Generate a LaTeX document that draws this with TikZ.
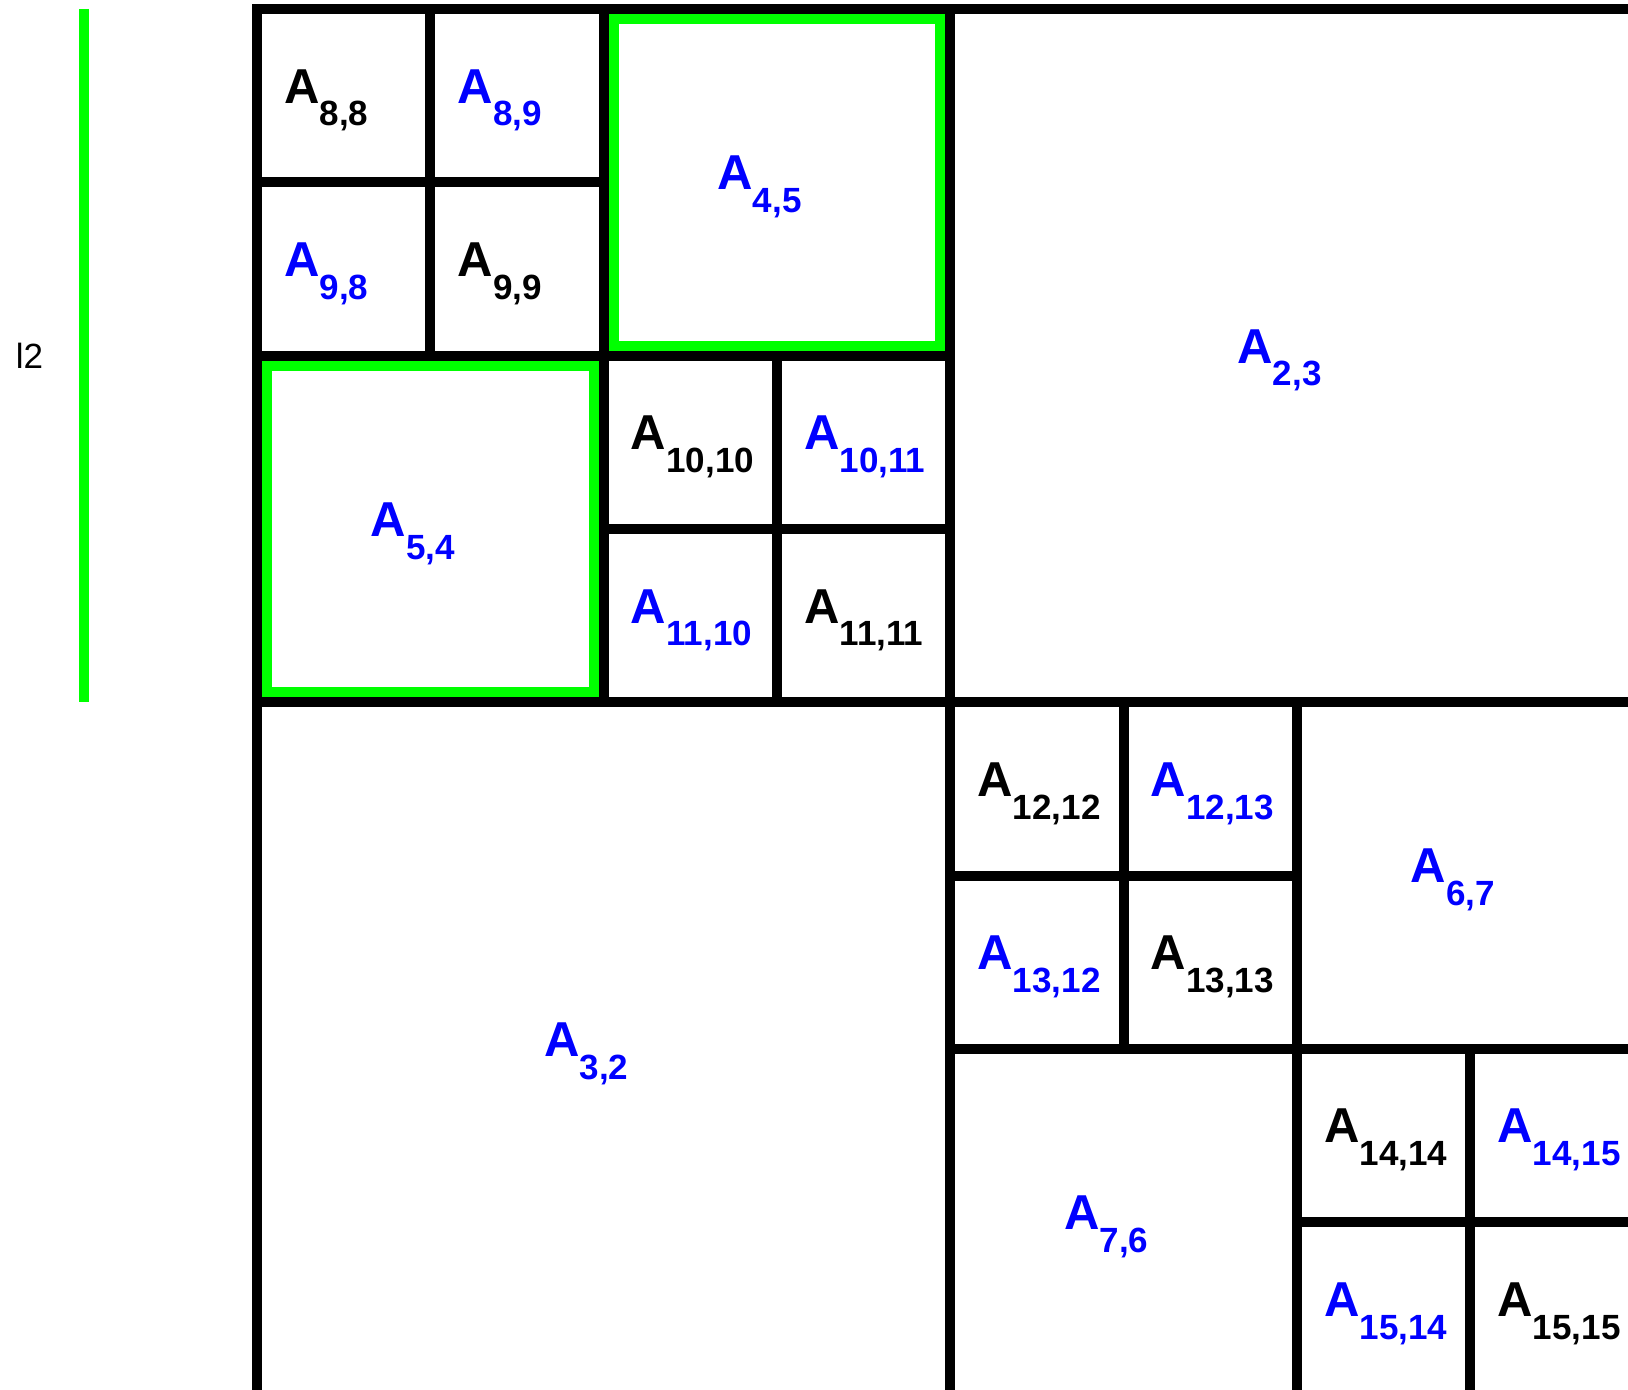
\documentclass[tikz,border=0pt]{standalone}
\usepackage{fontspec}
\setmainfont{Liberation Sans}
\usetikzlibrary{positioning,calc}
\definecolor{Diag}{RGB}{0,0,0}
\definecolor{Off}{RGB}{0,0,255}
\definecolor{Level}{RGB}{0,255,0}

\newcommand{\blocklabel}[1]{{\fontsize{16.1}{19}\selectfont\bfseries A}\raisebox{-7.5pt}{\fontsize{11.5}{14}\selectfont\bfseries #1}}

\begin{document}
\begin{tikzpicture}[x=2cm,y=2cm,
    gridbox/.style={draw=black,line width=3.3pt},
    hilite/.style={draw=Level,line width=3.3pt},
    blk/.style={anchor=base west,inner sep=0pt}]
        \clip (-1.483,0.052) rectangle (7.911,-7.963);
        \foreach \nm/\x/\y/\s/\sub/\col in {
          a23/4/0/4/{2,3}/Off,
          a32/0/4/4/{3,2}/Off,
          a45/2/0/2/{4,5}/Off,
          a54/0/2/2/{5,4}/Off,
          a67/6/4/2/{6,7}/Off,
          a76/4/6/2/{7,6}/Off,
          a88/0/0/1/{8,8}/Diag,
          a89/1/0/1/{8,9}/Off,
          a98/0/1/1/{9,8}/Off,
          a99/1/1/1/{9,9}/Diag,
          a1010/2/2/1/{10,10}/Diag,
          a1011/3/2/1/{10,11}/Off,
          a1110/2/3/1/{11,10}/Off,
          a1111/3/3/1/{11,11}/Diag,
          a1212/4/4/1/{12,12}/Diag,
          a1213/5/4/1/{12,13}/Off,
          a1312/4/5/1/{13,12}/Off,
          a1313/5/5/1/{13,13}/Diag,
          a1414/6/6/1/{14,14}/Diag,
          a1415/7/6/1/{14,15}/Off,
          a1514/6/7/1/{15,14}/Off,
          a1515/7/7/1/{15,15}/Diag}
        {
          \draw[gridbox] (\x,-\y) rectangle ++(\s,-\s);
          \node[blk,text=\col] (\nm) at (\x+\s/2-0.346,-\y-\s/2-0.043) {\blocklabel{\sub}};
        }
        \draw[hilite] (2.058,-0.058) rectangle (3.942,-1.942);
        \draw[hilite] (0.058,-2.058) rectangle (1.942,-3.942);
        \draw[hilite] (-1,0) -- (-1,-4);
        \node[font=\fontsize{11.5}{14}\selectfont] (lvl) at (-1.313,-2) {l2};
      \end{tikzpicture}
\end{document}
